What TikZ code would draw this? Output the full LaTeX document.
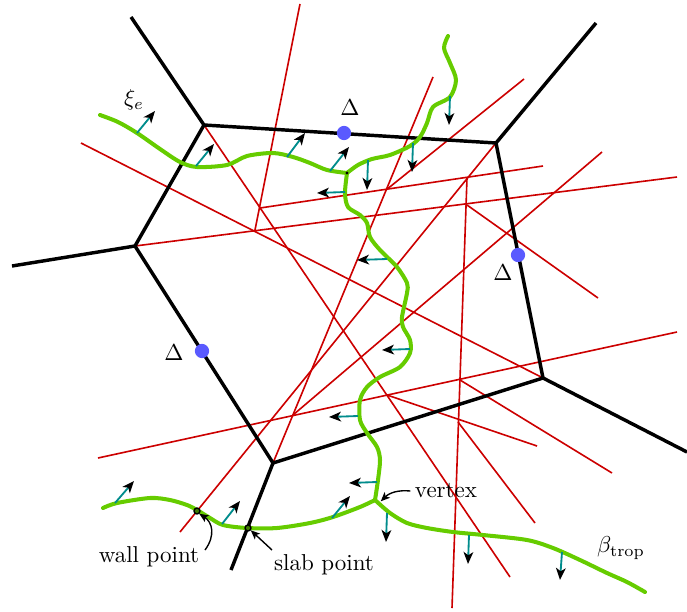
\documentclass[tikz,border=0pt]{standalone}
\usetikzlibrary{arrows.meta}
\definecolor{wallred}{RGB}{204,0,0}
\definecolor{tropgreen}{RGB}{102,204,0}
\definecolor{normteal}{RGB}{0,140,140}
\definecolor{dotblue}{RGB}{90,90,255}
\begin{document}
\begin{tikzpicture}[x=0.4348pt,y=-0.4348pt,
  skel/.style={line width=1.5pt,black,line join=miter},
  wall/.style={line width=0.7pt,wallred},
  trop/.style={line width=1.75pt,tropgreen,line cap=round,line join=round},
  nrm/.style={line width=0.8pt,normteal,-{Stealth[black,length=5.2pt,width=4.2pt,inset=1.4pt]}},
  bluedot/.style={fill=dotblue,draw=none},
  ptr/.style={line width=0.6pt,black,-{Stealth[length=4pt,width=3.4pt,inset=1pt]}},
  lbl/.style={inner sep=0pt,outer sep=0pt}]
\useasboundingbox (0,0) rectangle (687,611);

% skeleton vertices
\coordinate (A) at (204,125);
\coordinate (B) at (496,143);
\coordinate (C) at (543,378);
\coordinate (D) at (273,463);
\coordinate (E) at (135,246);
\coordinate (Ar) at (131,17);
\coordinate (Br) at (596,23);
\coordinate (Cr) at (687,452);
\coordinate (Dr) at (231,570);
\coordinate (Er) at (12,266);

% red walls
\draw[wall] (300,4) -- (255,230);
\draw[wall] (260,208) -- (543,166);
\draw[wall] (E) -- (677,177);
\draw[wall] (A) -- (510,577);
\draw[wall] (81,143) -- (C);
\draw[wall] (B) -- (180,532);
\draw[wall] (433,77) -- (D);
\draw[wall] (524,79) -- (386,190);
\draw[wall] (602,152) -- (293,415);
\draw[wall] (467,178) -- (452,608);
\draw[wall] (467,205) -- (598,298);
\draw[wall] (98,458) -- (677,332);
\draw[wall] (460,380) -- (612,473);
\draw[wall] (387,395) -- (537,446);
\draw[wall] (458,422) -- (535,523);

% skeleton
\draw[skel] (A) -- (B) -- (C) -- (D) -- (E) -- cycle;
\draw[skel] (A) -- (Ar);
\draw[skel] (B) -- (Br);
\draw[skel] (C) -- (Cr);
\draw[skel] (D) -- (Dr);
\draw[skel] (E) -- (Er);

% blue points
\fill[bluedot] (344,133) circle (3.1pt);
\fill[bluedot] (518,255) circle (3.1pt);
\fill[bluedot] (202,351) circle (3.1pt);

% tropical curve
\draw[trop] plot[smooth] coordinates {(100,115) (118,122) (137,133) (160,149) (180,162) (197,167) (227,165) (247,156) (273,153) (293,157) (310,163) (327,170) (347,173)};
\draw[trop] plot[smooth] coordinates {(347,173) (358,165) (372,159) (390,155) (410,146) (420,137) (427,123) (433,107) (450,97) (456,80) (450,63) (444,48) (448,36)};
\draw[trop] plot[smooth] coordinates {(347,173) (345,193) (348,207) (360,215) (367,223) (370,237) (380,250) (397,267) (407,283) (407,293) (402,317) (403,327) (410,340) (410,353) (400,367) (380,377) (367,387) (360,400) (360,420) (367,433) (377,447) (380,460) (378,480) (375,500)};
\draw[trop] plot[smooth] coordinates {(103,508) (117,503) (150,498) (170,500) (187,505) (197,510) (210,518) (223,525) (247,528) (277,528) (310,523) (333,517) (360,507) (375,500)};
\draw[trop] plot[smooth] coordinates {(375,500) (390,513) (407,523) (427,528) (453,532) (483,535) (527,540) (553,548) (580,560) (607,573) (627,582) (645,592)};

% normal vectors
\draw[nrm] (137,133) -- (155,111);
\draw[nrm] (196,166) -- (214,144);
\draw[nrm] (287,157) -- (305,133);
\draw[nrm] (330,171) -- (349,147);
\draw[nrm] (368,160) -- (367,190);
\draw[nrm] (413,143) -- (412,172);
\draw[nrm] (450,96) -- (449,125);
\draw[nrm] (345,192) -- (317,193);
\draw[nrm] (387,259) -- (357,260);
\draw[nrm] (410,349) -- (382,350);
\draw[nrm] (358,416) -- (329,417);
\draw[nrm] (377,482) -- (349,483);
\draw[nrm] (115,503) -- (134,481);
\draw[nrm] (222,524) -- (240,501);
\draw[nrm] (332,518) -- (350,496);
\draw[nrm] (387,513) -- (386,542);
\draw[nrm] (469,535) -- (468,564);
\draw[nrm] (562,552) -- (560,580);

% special points
\coordinate (V1) at (347,173);
\coordinate (V2) at (375,499);
\coordinate (WP) at (197,511);
\coordinate (SP) at (248,528);
\fill[black] (V1) circle (0.7pt);
\filldraw[draw=black,fill=tropgreen!60!black,line width=0.6pt] (WP) circle (1.3pt);
\filldraw[draw=black,fill=tropgreen!60!black,line width=0.6pt] (SP) circle (1.3pt);

% labels
\node[lbl] (xi) at (134,100) {$\xi_e$};
\node[lbl] (dA) at (350,108) {$\Delta$};
\node[lbl] (dB) at (503,273) {$\Delta$};
\node[lbl] (dC) at (174,353) {$\Delta$};
\node[lbl] (vtx) at (446,491) {vertex};
\node[lbl] (wp) at (149,557) {wall point};
\node[lbl] (sp) at (324,565) {slab point};
\node[lbl] (bt) at (621,548) {$\beta_{\mathrm{trop}}$};

% pointers
\draw[ptr] ([xshift=-2pt]vtx.west) to[bend right=25] ([xshift=2.5pt,yshift=-1pt]V2);
\coordinate (wps) at (205,550);
\draw[ptr] (wps) .. controls (216,535) and (212,522) .. ([xshift=1pt,yshift=-1.2pt]WP);
\coordinate (sps) at (272,550);
\draw[ptr] (sps) -- ([xshift=1.2pt,yshift=-1pt]SP);
\end{tikzpicture}
\end{document}
